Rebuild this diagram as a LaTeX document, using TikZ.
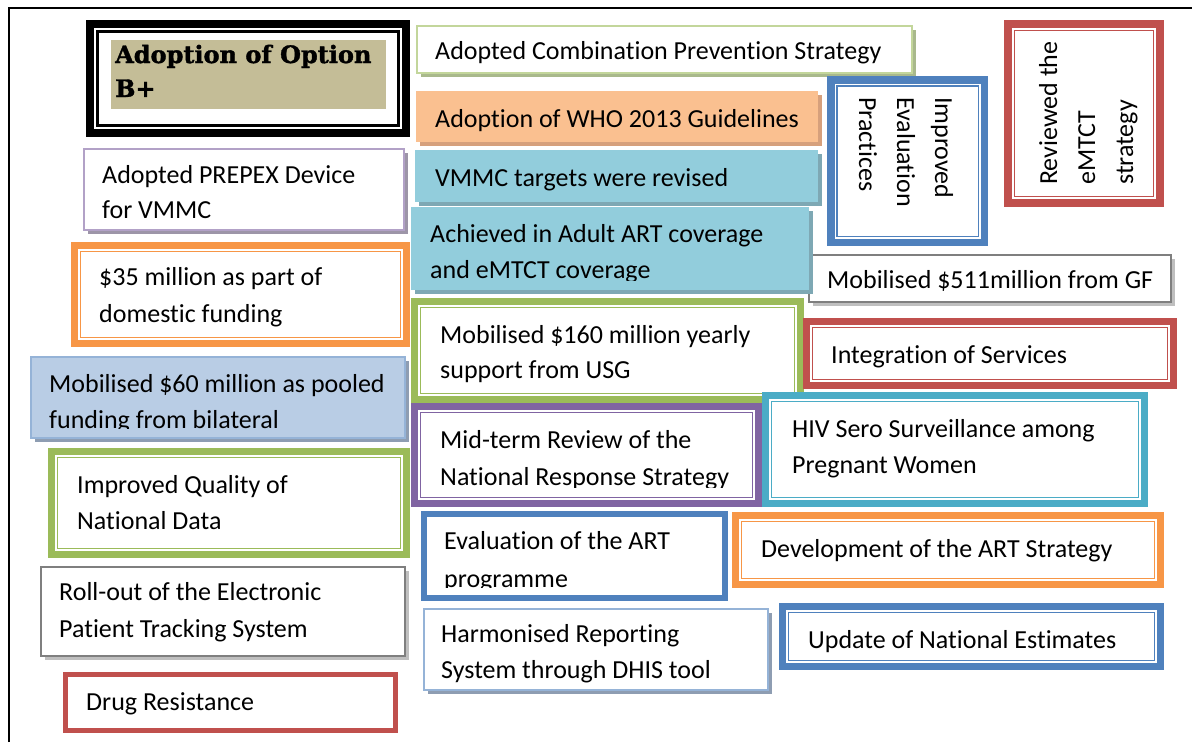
\documentclass[tikz,border=0pt]{standalone}
\usepackage{fontspec}
\setmainfont{Carlito}[Ligatures={NoCommon}]
\newfontfamily\heavyfont{DejaVu Serif}[BoldFeatures={FakeBold=1.5}]
\usetikzlibrary{shadows}
\definecolor{khaki}{HTML}{C4BD97}
\definecolor{lgreen}{HTML}{C3D69B}
\definecolor{lgreensh}{HTML}{A9B98C}
\definecolor{peach}{HTML}{FAC090}
\definecolor{peachsh}{HTML}{D6A07C}
\definecolor{aqua}{HTML}{92CDDC}
\definecolor{aquash}{HTML}{7EA8B4}
\definecolor{lav}{HTML}{B2A1C7}
\definecolor{lavsh}{HTML}{9D95A8}
\definecolor{oblue}{HTML}{4F81BD}
\definecolor{ored}{HTML}{C0504D}
\definecolor{oorange}{HTML}{F79646}
\definecolor{ogreen}{HTML}{9BBB59}
\definecolor{opurple}{HTML}{8064A2}
\definecolor{oteal}{HTML}{4BACC6}
\definecolor{skyfill}{HTML}{B9CDE5}
\definecolor{skyline}{HTML}{95B3D7}
\definecolor{skysh}{HTML}{8E9DB2}
\definecolor{ggray}{HTML}{7F7F7F}
\definecolor{ggraysh}{HTML}{BFBFBF}
\newcommand\txtsize{\fontsize{26}{31}\selectfont}
\newcommand\bx[7]{\node[rectangle, inner sep=0pt, outer sep=0pt, line width=#7pt, minimum width={#4-#2-#7}, minimum height={#5-#3-#7}, #6] (#1) at ({(#2+#4)/2},{(#3+#5)/2}) {};}
\newcommand\inr[4]{\draw[draw=#2, line width=#4pt] ([shift={(#3,#3)}]#1.north west) rectangle ([shift={(-#3,-#3)}]#1.south east);}
\newcommand\tl[4]{\node[txt] (#1) at (#2,#3) {#4};}
\begin{document}
\begin{tikzpicture}[x=1pt,y=-1pt,
  txt/.style={font=\txtsize, inner sep=0pt, anchor=base west, text=black},
  shd/.style={drop shadow={shadow xshift=3.5pt, shadow yshift=-3.5pt, fill=#1, opacity=1}}]
\useasboundingbox (0,0) rectangle (1192,742);
\fill[white] (0,0) rectangle (1192,742);
\draw[line width=1.5pt] (9,742) -- (9,8) -- (1192,8);

% Adoption of Option B+
\bx{optb}{86}{20}{410}{137}{draw=black, fill=white}{8}
\inr{optb}{black}{7.5}{2.5}
\node[fill=khaki, inner sep=0pt, outer sep=0pt, minimum width=275pt, minimum height=69pt] (optbfill) at (248.5,74.5) {};
\node[anchor=base west, inner sep=0pt, font=\heavyfont\bfseries\fontsize{24}{28}\selectfont] (optbt1) at (115,63) {Adoption of Option};
\node[anchor=base west, inner sep=0pt, font=\heavyfont\bfseries\fontsize{24}{28}\selectfont] (optbt2) at (115,97) {B+};

% Combination prevention
\bx{comb}{416}{25}{913}{74}{draw=lgreen, fill=white, shd=lgreensh}{2}
\tl{combt}{435}{59}{Adopted Combination Prevention Strategy}

% WHO 2013
\bx{who}{416}{91}{818}{142}{fill=peach, shd=peachsh}{0}
\tl{whot}{435}{127}{Adoption of WHO 2013 Guidelines}

% VMMC targets
\bx{vmmc}{415}{150}{818}{202}{fill=aqua, shd=aquash}{0}
\tl{vmmct}{435}{186}{VMMC targets were revised}

% PREPEX
\bx{prep}{83}{148}{405}{231}{draw=lav, fill=white, shd=lavsh}{2}
\tl{prept1}{102}{183}{Adopted PREPEX Device}
\tl{prept2}{102}{218}{for VMMC}

% Improved Evaluation Practices
\bx{iep}{827}{76}{988}{246}{draw=oblue, fill=white}{7.5}
\inr{iep}{oblue}{6}{1.5}
\node[txt, rotate=-90] (iept1) at (935,97) {Improved};
\node[txt, rotate=-90] (iept2) at (897,97) {Evaluation};
\node[txt, rotate=-90] (iept3) at (859,97) {Practices};

% Reviewed the eMTCT strategy
\bx{rev}{1004}{20}{1164}{207}{draw=ored, fill=white}{8}
\inr{rev}{ored}{6.5}{1.5}
\node[txt, rotate=90] (revt1) at (1057,185) {Reviewed the};
\node[txt, rotate=90] (revt2) at (1095,185) {eMTCT};
\node[txt, rotate=90] (revt3) at (1133,185) {strategy};

% $511 million
\bx{gf}{808}{254}{1172}{303}{draw=ggray, fill=white, shd=ggraysh}{2}
\tl{gft}{827}{288}{Mobilised \$511million from GF}

% Achieved
\bx{ach}{411}{207}{809}{290}{fill=aqua, shd=aquash}{0}
\begin{scope}
\clip (411,207) rectangle (809,280);
\tl{acht1}{430}{242}{Achieved in Adult ART coverage}
\tl{acht2}{430}{278}{and eMTCT coverage}
\end{scope}

% $35 million
\bx{dom}{71}{242}{410}{347}{draw=oorange, fill=white}{7}
\inr{dom}{oorange}{6}{1.5}
\tl{domt1}{99}{285}{\$35 million as part of}
\tl{domt2}{99}{322}{domestic funding}

% $60 million
\bx{pool}{30}{356}{406}{439}{draw=skyline, fill=skyfill, shd=skysh}{2}
\begin{scope}
\clip (30,356) rectangle (406,428);
\tl{poolt1}{49}{392}{Mobilised \$60 million as pooled}
\tl{poolt2}{49}{428}{funding from bilateral}
\end{scope}

% Improved Quality
\bx{qual}{48}{448}{410}{558}{draw=ogreen, fill=white}{7}
\inr{qual}{ogreen}{6}{1.5}
\tl{qualt1}{77}{493}{Improved Quality of}
\tl{qualt2}{77}{529}{National Data}

% $160 million
\bx{usg}{411}{298}{804}{403}{draw=ogreen, fill=white}{7}
\inr{usg}{ogreen}{6}{1.5}
\tl{usgt1}{440}{343}{Mobilised \$160 million yearly}
\tl{usgt2}{440}{378}{support from USG}

% Integration of services
\bx{integ}{803}{318}{1177}{389}{draw=ored, fill=white}{7}
\inr{integ}{ored}{6}{1.5}
\tl{integt}{831}{363}{Integration of Services}

% Mid-term review
\bx{mtr}{411}{403}{762}{507}{draw=opurple, fill=white}{7}
\inr{mtr}{opurple}{6}{1.5}
\begin{scope}
\clip (411,403) rectangle (762,487);
\tl{mtrt1}{440}{448}{Mid-term Review of the}
\tl{mtrt2}{440}{485}{National Response Strategy}
\end{scope}

% HIV Sero surveillance
\bx{hiv}{762}{392}{1148}{507}{draw=oteal, fill=white}{7}
\inr{hiv}{oteal}{6}{1.5}
\tl{hivt1}{792}{437}{HIV Sero Surveillance among}
\tl{hivt2}{792}{473}{Pregnant Women}

% Evaluation of ART
\bx{evart}{421}{511}{728}{601}{draw=oblue, fill=white}{6}
\begin{scope}
\clip (421,511) rectangle (728,587);
\tl{evartt1}{444}{549}{Evaluation of the ART}
\tl{evartt2}{444}{587}{programme}
\end{scope}

% Development of ART strategy
\bx{dev}{732}{512}{1164}{588}{draw=oorange, fill=white}{7}
\inr{dev}{oorange}{6}{1.5}
\tl{devt}{761}{557}{Development of the ART Strategy}

% Update of national estimates
\bx{upd}{779}{603}{1164}{670}{draw=oblue, fill=white}{7}
\inr{upd}{oblue}{6}{1.5}
\tl{updt}{808}{648}{Update of National Estimates}

% Harmonised reporting
\bx{dhis}{423}{608}{769}{691}{draw=skyline, fill=white, shd=skysh}{2}
\tl{dhist1}{441}{642}{Harmonised Reporting}
\tl{dhist2}{441}{678}{System through DHIS tool}

% Roll-out EPTS
\bx{epts}{40}{566}{406}{657}{draw=ggray, fill=white, shd=ggraysh}{2}
\tl{eptst1}{59}{600}{Roll-out of the Electronic}
\tl{eptst2}{59}{637}{Patient Tracking System}

% Drug resistance
\bx{drug}{63}{672}{398}{733}{draw=ored, fill=white}{5}
\tl{drugt}{86}{710}{Drug Resistance}
\end{tikzpicture}
\end{document}
